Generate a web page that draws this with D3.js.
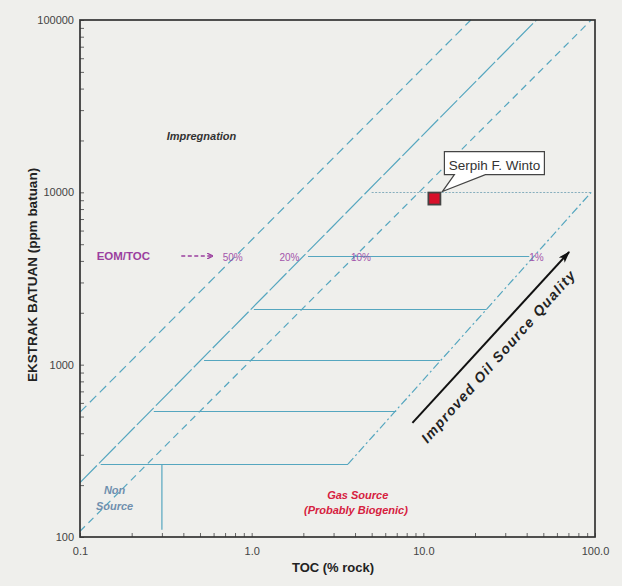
<!DOCTYPE html>
<html>
<head>
<meta charset="utf-8">
<script src="https://cdn.jsdelivr.net/npm/d3@7"></script>
<style>
  body { margin: 0; background: #efefec; }
  svg { display: block; font-family: "Liberation Sans", Arial, sans-serif; }
</style>
</head>
<body>
<div id="chart"></div>
<script>
const width = 622, height = 586;
const margin = {top: 20, right: 23, bottom: 49, left: 80};

// Axis ticks (log scales)
const xTicks = [0.1, 1, 10, 100];
const xTickLabels = ["0.1", "1.0", "10.0", "100.0"];
const yTicks = [100, 1000, 10000, 100000];
const yTickLabels = ["100", "1000", "10000", "100000"];

// EOM/TOC ratio lines, [TOC, EOM] at each end
const ratioNames = ["50%", "20%", "10%", "1%"];
const ratioStart = [[0.1, 530], [0.1, 207], [0.1, 108], [3.64, 265]];
const ratioEnd = [[18.9, 100000], [45.6, 100000], [95, 100000], [95, 10000]];

// Horizontal class boundaries (EOM ppm) and the TOC where each starts / stops
const levelEom = [265, 535, 1060, 2100, 4250, 10000];
const levelTocStart = [0.132, 0.269, 0.528, 1.03, 2.13, 5.0];
const levelTocEnd = [3.64, 6.95, 12.5, 23.4, 41.4, 95];

// Non source / gas source split
const splitToc = 0.3;
const splitEom = [110, 265];

// Sample
const sampleNames = ["Serpih F. Winto"];
const sampleToc = [11.6];
const sampleEom = [9200];

let svg = d3.select("#chart")
    .append("svg")
    .attr("width", width)
    .attr("height", height);

svg.append("rect")
    .attr("width", width)
    .attr("height", height)
    .attr("fill", "#efefec");

let x = d3.scaleLog()
    .domain([0.1, 100])
    .range([margin.left, width - margin.right - 4]);

let y = d3.scaleLog()
    .domain([100, 100000])
    .range([height - margin.bottom, margin.top]);

// markers
let defs = svg.append("defs");
defs.append("marker")
    .attr("id", "bigArrow")
    .attr("viewBox", "0 0 12 8")
    .attr("refX", 11).attr("refY", 4)
    .attr("markerWidth", 12).attr("markerHeight", 8)
    .attr("markerUnits", "userSpaceOnUse")
    .attr("orient", "auto")
    .append("path")
    .attr("d", "M0,0 L12,4 L0,8 L3,4 Z")
    .attr("fill", "#111");
defs.append("marker")
    .attr("id", "smallArrow")
    .attr("viewBox", "0 0 6 6")
    .attr("refX", 5).attr("refY", 3)
    .attr("markerWidth", 6).attr("markerHeight", 6)
    .attr("markerUnits", "userSpaceOnUse")
    .attr("orient", "auto")
    .append("path")
    .attr("d", "M0,0 L6,3 L0,6")
    .attr("fill", "none")
    .attr("stroke", "#9b3f9f")
    .attr("stroke-width", 1.3);

const lineColor = "#55a6bf";

// horizontal class lines
let levels = svg.append("g");
levelEom.forEach(function (eom, i) {
    let last = i === levelEom.length - 1;
    let yy = Math.round(y(eom)) + 0.5; // keep thin lines crisp
    levels.append("line")
        .attr("x1", x(levelTocStart[i]))
        .attr("x2", x(levelTocEnd[i]))
        .attr("y1", yy)
        .attr("y2", yy)
        .attr("stroke", last ? "#86aebd" : lineColor)
        .attr("stroke-width", last ? 1.1 : 1.2)
        .attr("stroke-dasharray", last ? "2,1.5" : null);
});

// vertical split between non source and gas source
svg.append("line")
    .attr("x1", x(splitToc)).attr("x2", x(splitToc))
    .attr("y1", y(splitEom[0])).attr("y2", y(splitEom[1]))
    .attr("stroke", lineColor)
    .attr("stroke-width", 1.2);

// ratio lines
const ratioDash = ["9,5", "24,3", "7,5", "8,3,2,3"];
ratioNames.forEach(function (name, i) {
    svg.append("line")
        .attr("x1", x(ratioStart[i][0]))
        .attr("y1", y(ratioStart[i][1]))
        .attr("x2", x(ratioEnd[i][0]))
        .attr("y2", y(ratioEnd[i][1]))
        .attr("stroke", lineColor)
        .attr("stroke-width", 1.2)
        .attr("stroke-dasharray", ratioDash[i]);
});

// axes, ticks point inward
let xAxis = d3.axisBottom(x)
    .tickValues(x.ticks())
    .tickSizeInner(-4)
    .tickSizeOuter(0)
    .tickPadding(10)
    .tickFormat(function (d) {
        let k = xTicks.findIndex(function (t) { return Math.abs(t - d) < 1e-9; });
        return k >= 0 ? xTickLabels[k] : "";
    });

let yAxis = d3.axisLeft(y)
    .tickValues(y.ticks())
    .tickSizeInner(-4)
    .tickSizeOuter(0)
    .tickPadding(6)
    .tickFormat(function (d) {
        let k = yTicks.indexOf(d);
        return k >= 0 ? yTickLabels[k] : "";
    });

let gx = svg.append("g")
    .attr("transform", `translate(0, ${height - margin.bottom})`)
    .call(xAxis);
let gy = svg.append("g")
    .attr("transform", `translate(${margin.left}, 0)`)
    .call(yAxis);

[gx, gy].forEach(function (g) {
    g.select(".domain").remove();
    g.selectAll(".tick line").attr("stroke", "#555").attr("stroke-width", 0.9);
    g.selectAll(".tick text")
        .attr("fill", "#444")
        .style("font-size", "11px")
        .style("font-family", "'Liberation Sans', Arial, sans-serif");
});

// frame
svg.append("rect")
    .attr("x", x(0.1))
    .attr("y", y(100000))
    .attr("width", x(100) - x(0.1))
    .attr("height", y(100) - y(100000))
    .attr("fill", "none")
    .attr("stroke", "#333")
    .attr("stroke-width", 1.7);

// axis titles
svg.append("text")
    .attr("x", 333)
    .attr("y", 572)
    .attr("text-anchor", "middle")
    .style("font-size", "13px")
    .style("font-weight", "bold")
    .attr("fill", "#222")
    .text("TOC (% rock)");

svg.append("text")
    .attr("transform", "translate(37, 275) rotate(-90)")
    .attr("text-anchor", "middle")
    .style("font-size", "13.5px")
    .style("font-weight", "bold")
    .attr("fill", "#222")
    .text("EKSTRAK BATUAN (ppm batuan)");

// region labels
svg.append("text")
    .attr("x", x(0.51)).attr("y", y(20000))
    .attr("text-anchor", "middle")
    .style("font-size", "11px")
    .style("font-weight", "bold")
    .style("font-style", "italic")
    .attr("fill", "#333")
    .text("Impregnation");

let nonSource = svg.append("g")
    .attr("fill", "#6f8fae")
    .style("font-size", "11px")
    .style("font-weight", "bold")
    .style("font-style", "italic")
    .attr("text-anchor", "middle");
nonSource.append("text").attr("x", x(0.159)).attr("y", y(178)).text("Non");
nonSource.append("text").attr("x", x(0.159)).attr("y", y(143)).text("Source");

let gasSource = svg.append("g")
    .attr("fill", "#d6203e")
    .style("font-size", "11px")
    .style("font-weight", "bold")
    .style("font-style", "italic")
    .attr("text-anchor", "middle");
gasSource.append("text").attr("x", x(4.15)).attr("y", y(166)).text("Gas Source");
gasSource.append("text").attr("x", x(4.05)).attr("y", y(136)).text("(Probably Biogenic)");

// EOM/TOC legend row
svg.append("text")
    .attr("x", x(0.125)).attr("y", y(4050))
    .style("font-size", "11.5px")
    .style("font-weight", "bold")
    .attr("fill", "#9b3f9f")
    .text("EOM/TOC");

svg.append("line")
    .attr("x1", x(0.389)).attr("x2", x(0.587))
    .attr("y1", y(4270)).attr("y2", y(4270))
    .attr("stroke", "#9b3f9f")
    .attr("stroke-width", 1.6)
    .attr("stroke-dasharray", "4,2.5")
    .attr("marker-end", "url(#smallArrow)");

const pctToc = [0.776, 1.66, 4.33, 45.6];
ratioNames.forEach(function (name, i) {
    svg.append("text")
        .attr("x", x(pctToc[i])).attr("y", y(3996))
        .attr("text-anchor", "middle")
        .style("font-size", "10px")
        .attr("fill", "#9b45a5")
        .attr("opacity", 0.9)
        .text(name);
});

// improved oil source quality arrow
svg.append("line")
    .attr("x1", x(8.64)).attr("y1", y(459))
    .attr("x2", x(70.7)).attr("y2", y(4506))
    .attr("stroke", "#111")
    .attr("stroke-width", 2)
    .attr("marker-end", "url(#bigArrow)");

svg.append("text")
    .attr("transform", `translate(${x(28.6)}, ${y(1064)}) rotate(-48.5)`)
    .attr("text-anchor", "middle")
    .style("font-size", "14px")
    .style("font-weight", "bold")
    .style("font-style", "italic")
    .attr("fill", "#222")
    .attr("textLength", 224)
    .attr("lengthAdjust", "spacing")
    .text("Improved Oil Source Quality");

// sample point with callout
sampleNames.forEach(function (name, i) {
    let px = x(sampleToc[i]), py = y(sampleEom[i]);
    let left = px + 10, right = px + 110, top = py - 47, bottom = py - 24;
    svg.append("path")
        .attr("d", `M${left},${top} H${right} V${bottom} H${px + 51} L${px + 8},${py - 7} L${px + 20},${bottom} H${left} Z`)
        .attr("fill", "#fff")
        .attr("stroke", "#444")
        .attr("stroke-width", 1.2);
    svg.append("text")
        .attr("x", (left + right) / 2).attr("y", top + 18)
        .attr("text-anchor", "middle")
        .style("font-size", "13.5px")
        .attr("fill", "#333")
        .text(name);
    svg.append("rect")
        .attr("x", px - 6).attr("y", py - 6)
        .attr("width", 12).attr("height", 12)
        .attr("fill", "#d8102a")
        .attr("stroke", "#444")
        .attr("stroke-width", 1.8);
});
</script>
</body>
</html>
